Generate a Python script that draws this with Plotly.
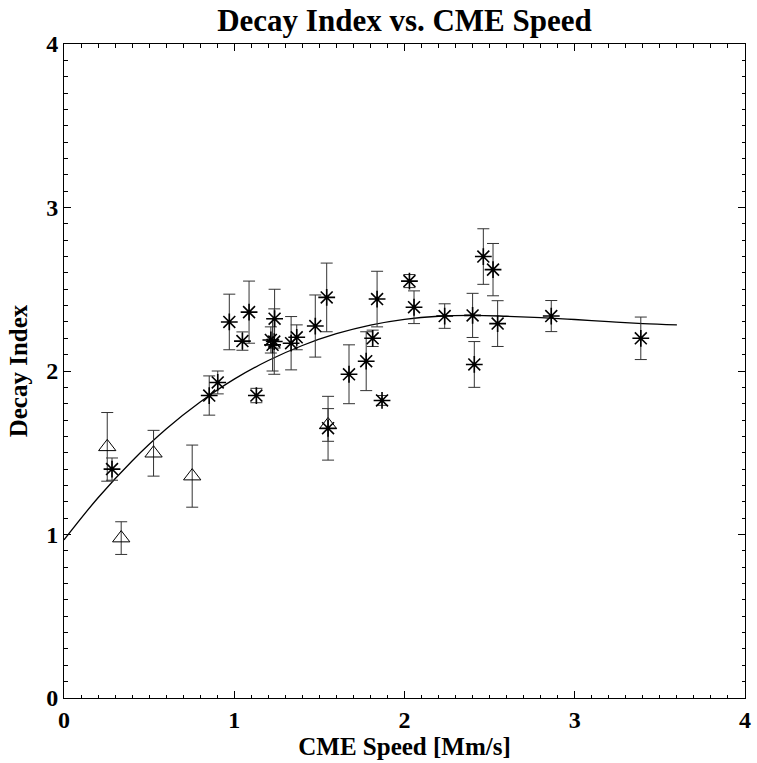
import plotly.graph_objects as go

# Triangles (class A)
tri_x = [0.254, 0.336, 0.526, 0.753, 1.551]
tri_y = [1.536, 0.978, 1.497, 1.357, 1.670]
tri_err = [0.21, 0.10, 0.14, 0.19, 0.10]

# Asterisks (class B)
star_x = [0.282, 0.853, 0.903, 0.971, 1.048, 1.087, 1.130, 1.237, 1.215, 1.235,
          1.225, 1.334, 1.367, 1.476, 1.543, 1.551, 1.674, 1.775, 1.813, 1.839,
          1.868, 2.029, 2.056, 2.236, 2.400, 2.410, 2.463, 2.520, 2.547, 2.862, 3.388]
star_y = [1.40, 1.85, 1.93, 2.30, 2.183, 2.36, 1.85, 2.32, 2.19, 2.18,
          2.16, 2.17, 2.206, 2.275, 2.45, 1.65, 1.98, 2.06, 2.20, 2.44,
          1.82, 2.55, 2.39, 2.336, 2.34, 2.04, 2.70, 2.62, 2.29, 2.336, 2.20]
star_err = [0.068, 0.12, 0.07, 0.17, 0.056, 0.19, 0.044, 0.18, 0.08, 0.20,
            0.16, 0.163, 0.076, 0.19, 0.21, 0.195, 0.18, 0.18, 0.05, 0.17,
            0.03, 0.04, 0.10, 0.075, 0.135, 0.14, 0.17, 0.16, 0.14, 0.095, 0.13]

# Fitted curve
fit_x = [0.0, 0.2, 0.4, 0.6, 0.8, 1.0, 1.2, 1.4, 1.6, 1.8, 2.0, 2.2, 2.4, 2.6,
         2.8, 3.0, 3.2, 3.4, 3.6]
fit_y = [0.967, 1.225, 1.450, 1.645, 1.810, 1.950, 2.064, 2.156, 2.228, 2.281,
         2.316, 2.335, 2.340, 2.335, 2.327, 2.315, 2.302, 2.290, 2.282]

FONT = "Liberation Serif"

fig = go.Figure()

fig.add_trace(go.Scatter(
    x=fit_x, y=fit_y, mode="lines", line=dict(color="black", width=1.3, shape="spline"),
    hoverinfo="skip", showlegend=False))

fig.add_trace(go.Scatter(
    x=tri_x, y=tri_y, mode="markers",
    marker=dict(symbol="triangle-up-open", size=15, color="black", line=dict(color="black", width=1)),
    error_y=dict(type="data", array=tri_err, visible=True, color="#333", thickness=1, width=6),
    showlegend=False))

fig.add_trace(go.Scatter(
    x=star_x, y=star_y, mode="markers",
    marker=dict(symbol="asterisk-open", size=14, color="black", line=dict(color="black", width=1.6)),
    error_y=dict(type="data", array=star_err, visible=True, color="#333", thickness=1, width=6),
    showlegend=False))

axis_common = dict(
    showline=True, linecolor="black", linewidth=1, mirror="allticks",
    ticks="inside", ticklen=7, tickwidth=1, tickcolor="black",
    showgrid=False, zeroline=False,
    tickfont=dict(family=FONT, size=24, color="black", weight="bold"),
    minor=dict(ticks="inside", ticklen=3.5, tickwidth=1, tickcolor="black", dtick=0.1, showgrid=False),
    dtick=1, tick0=0,
)

fig.update_xaxes(range=[0, 4], title=dict(text="CME Speed [Mm/s]", standoff=4,
                 font=dict(family=FONT, size=25, color="black", weight="bold")), **axis_common)
fig.update_yaxes(range=[0, 4], title=dict(text="Decay Index", standoff=11,
                 font=dict(family=FONT, size=25, color="black", weight="bold")), **axis_common)

fig.update_layout(
    width=757, height=763,
    margin=dict(l=64, r=6, t=44, b=65),
    paper_bgcolor="white", plot_bgcolor="white",
    title=dict(text="Decay Index vs. CME Speed", xref="paper", x=0.5, xanchor="center",
               y=0.973, yanchor="middle",
               font=dict(family=FONT, size=31, color="black", weight="bold")),
)

fig.write_html("out.html")
